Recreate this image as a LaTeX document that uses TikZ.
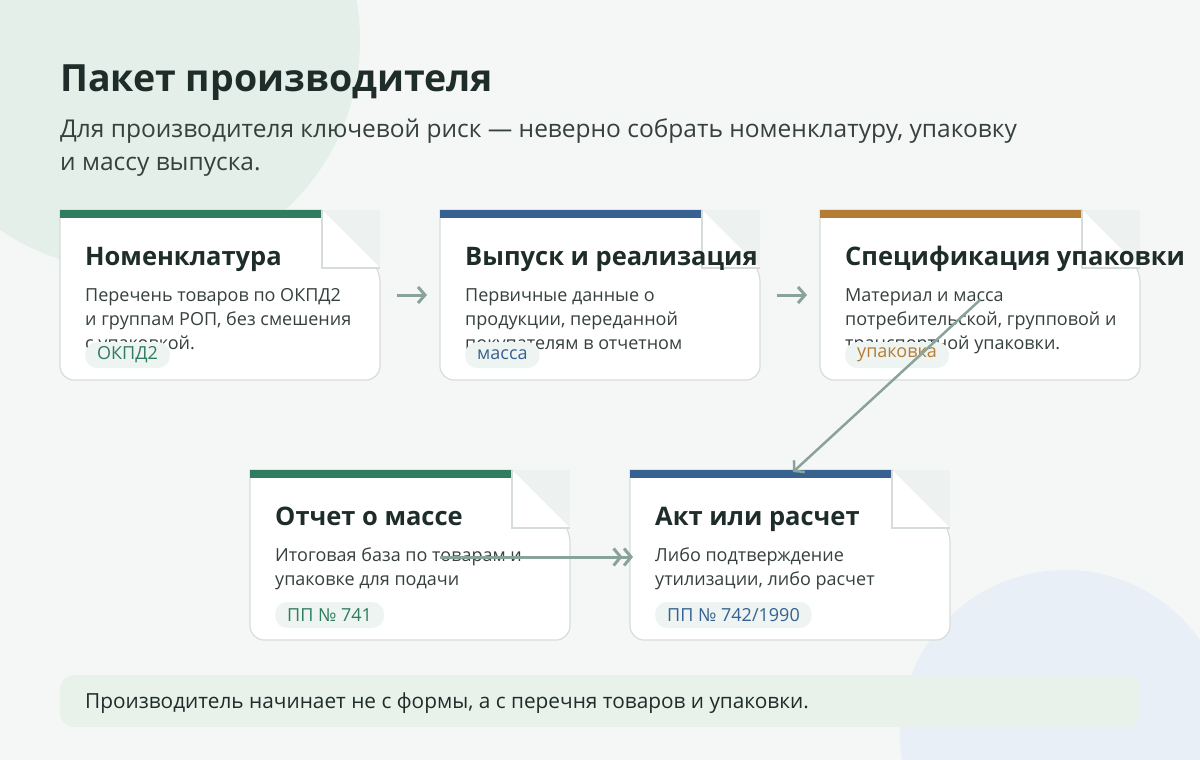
\documentclass[tikz,border=0pt]{standalone}
\usepackage{fontspec}
\setmainfont{Open Sans}
\usetikzlibrary{arrows.meta}
\definecolor{bg}{HTML}{F5F7F6}
\definecolor{cg}{HTML}{2F7D5E}
\definecolor{cb}{HTML}{376191}
\definecolor{co}{HTML}{B47D33}
\definecolor{ink}{HTML}{1F2D2A}
\definecolor{txt}{HTML}{36403D}
\definecolor{arr}{HTML}{8AA39A}
\definecolor{edge}{HTML}{D6DCD9}
\definecolor{fold}{HTML}{EDF2F0}
\definecolor{tagbg}{HTML}{EEF4F1}
\definecolor{blobg}{HTML}{E3EFE8}
\definecolor{blobb}{HTML}{E8EFF6}
\definecolor{footbg}{HTML}{E9F1EB}
\begin{document}
\begin{tikzpicture}[x=1pt,y=-1pt,
  ttl/.style={anchor=base west,font=\fontsize{25.5}{28}\selectfont\bfseries,text=ink,inner sep=0},
  body/.style={anchor=base west,font=\fontsize{18}{24}\selectfont,text=txt,inner sep=0,align=left},
  tag/.style={anchor=west,fill=tagbg,rounded corners=12pt,font=\fontsize{18}{18}\selectfont,inner xsep=12pt,inner ysep=3pt,minimum height=26pt},
  ar/.style={draw=arr,line width=3pt,-{Straight Barb[length=7pt,width=16pt]}},
  ar2/.style={draw=arr,line width=3pt,-{Straight Barb[length=7pt,width=17pt]Straight Barb[length=7pt,width=17pt]}}]
\useasboundingbox (0,0) rectangle (1200,760);
\fill[bg] (0,0) rectangle (1200,760);
\begin{scope}
\clip (0,0) rectangle (1200,760);
\fill[blobg] (130,40) circle (230);
\fill[blobb] (1065,735) circle (165);
\end{scope}
\node[anchor=base west,inner sep=0,font=\fontsize{37.5}{40}\selectfont\bfseries,text=ink] (title) at (60,92) {Пакет производителя};
\node[anchor=base west,inner sep=0,font=\fontsize{24.5}{33}\selectfont,text=txt,align=left] (sub) at (60,170) {Для производителя ключевой риск — неверно собрать номенклатуру, упаковку\\и массу выпуска.};
\newcommand\mycard[8]{%
 \fill[white,draw=edge,line width=1.2pt,rounded corners=14pt] (#1,#2+8) -- (#1,#2+170) -- (#1+320,#2+170) -- (#1+320,#2+58) [sharp corners]-- (#1+262,#2) -- (#1,#2) -- cycle;
 \fill[#3] (#1,#2) rectangle (#1+262,#2+8);
 \fill[#3] (#1+262,#2) -- (#1+270,#2+8) -- (#1+262,#2+8) -- cycle;
 \fill[fold] (#1+262,#2) rectangle (#1+320,#2+58);
 \fill[white] (#1+263,#2+1) -- (#1+319,#2+57) -- (#1+263,#2+57) -- cycle;
 \draw[edge,line width=1.2pt] (#1+262,#2) -- (#1+262,#2+58) -- (#1+320,#2+58);
 \node[ttl] (#7t) at (#1+25,#2+55) {#4};
 \node[body] (#7b) at (#1+25,#2+#8) {#5};
 \node[tag,text=#3] (#7g) at (#1+25,#2+145) {#6};
}
\mycard{60}{210}{cg}{Номенклатура}{Перечень товаров по ОКПД2\\и группам РОП, без смешения\\с упаковкой.}{ОКПД2}{a}{139}
\mycard{440}{210}{cb}{Выпуск и реализация}{Первичные данные о\\продукции, переданной\\покупателям в отчетном}{масса}{b}{139}
\mycard{820}{210}{co}{Спецификация упаковки}{Материал и масса\\потребительской, групповой и\\транспортной упаковки.}{упаковка}{c}{139}
\mycard{250}{470}{cg}{Отчет о массе}{Итоговая база по товарам и\\упаковке для подачи}{ПП № 741}{d}{115}
\mycard{630}{470}{cb}{Акт или расчет}{Либо подтверждение\\утилизации, либо расчет}{ПП № 742/1990}{e}{115}
\coordinate (a1) at (397,295); \coordinate (b0) at (427,295);
\coordinate (b1) at (777,295); \coordinate (c0) at (807,295);
\coordinate (c1) at (980,300); \coordinate (e0) at (793,472);
\coordinate (d1) at (440,557); \coordinate (e1) at (633,557);
\draw[ar] (a1) -- (b0);
\draw[ar] (b1) -- (c0);
\draw[ar,line width=2.5pt] (c1) -- (e0);
\draw[ar2] (d1) -- (e1);
\fill[footbg,rounded corners=14pt] (60,675) rectangle (1140,727);
\node[anchor=west,inner sep=0,font=\fontsize{20.8}{22}\selectfont,text=ink] (foot) at (85,703) {Производитель начинает не с формы, а с перечня товаров и упаковки.};
\end{tikzpicture}
\end{document}
